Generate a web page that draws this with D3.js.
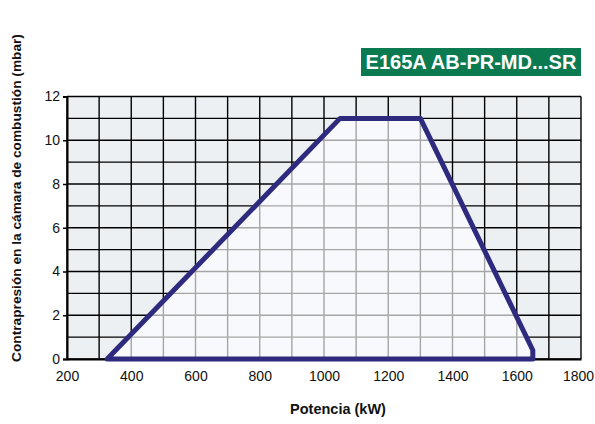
<!DOCTYPE html>
<html><head><meta charset="utf-8">
<script src="https://cdn.jsdelivr.net/npm/d3@7"></script>
<style>body{margin:0;background:#fff}svg{display:block}text{font-family:"Liberation Sans",Arial,sans-serif}</style>
</head><body>
<script>
const title = "E165A AB-PR-MD...SR";
const xLabel = "Potencia (kW)";
const yLabel = "Contrapresión en la cámara de combustión (mbar)";
const xTicks = [200,400,600,800,1000,1200,1400,1600,1800];
const yTicks = [0,2,4,6,8,10,12];
const envKW = [325,1050,1300,1650,1650];
const envMbar = [0,11,11,0.4,0];

const W=595,H=424;
const svg=d3.select("body").append("svg").attr("width",W).attr("height",H);
const x=d3.scaleLinear().domain([200,1800]).range([67,581]);
const y=d3.scaleLinear().domain([0,12]).range([359,96.5]);
const xGrid=d3.range(200,1801,100), yGrid=d3.range(0,13,1);
const g=svg.append("g");
g.append("rect").attr("x",x(200)).attr("y",y(12)).attr("width",x(1800)-x(200)).attr("height",y(0)-y(12)).attr("fill","#edf0f3");
g.selectAll(".vg").data(xGrid).join("line").attr("x1",d=>x(d)).attr("x2",d=>x(d)).attr("y1",y(0)).attr("y2",y(12)).attr("stroke","#000").attr("stroke-width",1.4);
g.selectAll(".hg").data(yGrid).join("line").attr("y1",d=>y(d)).attr("y2",d=>y(d)).attr("x1",x(200)).attr("x2",x(1800)).attr("stroke","#000").attr("stroke-width",1.4);
const pts=envKW.map((k,i)=>[x(k),y(envMbar[i])]);
const line=d3.line();
svg.append("clipPath").attr("id","cp").append("path").attr("d",line(pts)+"Z");
const inner=g.append("g").attr("clip-path","url(#cp)");
inner.append("rect").attr("x",x(200)).attr("y",y(12)).attr("width",x(1800)-x(200)).attr("height",y(0)-y(12)).attr("fill","#f8f9fc");
inner.selectAll(".vg2").data(xGrid).join("line").attr("x1",d=>x(d)).attr("x2",d=>x(d)).attr("y1",y(0)).attr("y2",y(12)).attr("stroke","#a6a6a6").attr("stroke-width",1.4);
inner.selectAll(".hg2").data(yGrid).join("line").attr("y1",d=>y(d)).attr("y2",d=>y(d)).attr("x1",x(200)).attr("x2",x(1800)).attr("stroke","#a6a6a6").attr("stroke-width",1.4);
// axes
const xa=svg.append("g").attr("transform",`translate(0,${y(0)})`).call(d3.axisBottom(x).tickValues(xTicks).tickFormat(d3.format("d")).tickSize(0).tickPadding(12));
const ya=svg.append("g").attr("transform",`translate(${x(200)},0)`).call(d3.axisLeft(y).tickValues(yTicks).tickFormat(d3.format("d")).tickSize(4).tickPadding(3));
[xa,ya].forEach(a=>{a.select(".domain").attr("stroke","#000").attr("stroke-width",2);a.selectAll("text").attr("font-size",14).attr("fill","#111").attr("font-family","Liberation Sans, Arial, sans-serif");a.selectAll(".tick line").attr("stroke","#000").attr("stroke-width",1.5);});
xa.selectAll(".tick text").filter(d=>d===1800).attr("dx",-3);
// envelope
svg.append("path").attr("d",line(pts)+"Z").attr("fill","none").attr("stroke","#2e2a7e").attr("stroke-width",5).attr("stroke-linejoin","round");
// title box
svg.append("rect").attr("x",361).attr("y",48).attr("width",220).attr("height",28).attr("fill","#0b7a51");
svg.append("text").attr("x",471).attr("y",69).attr("text-anchor","middle").attr("fill","#fff").attr("font-weight","bold").attr("font-size",20).text(title);
svg.append("text").attr("x",338).attr("y",414).attr("text-anchor","middle").attr("font-weight","bold").attr("font-size",14.5).attr("fill","#111").text(xLabel);
svg.append("text").attr("transform","translate(21,198) rotate(-90)").attr("text-anchor","middle").attr("font-weight","bold").attr("font-size",13.7).attr("fill","#111").text(yLabel);
</script>
</body></html>
